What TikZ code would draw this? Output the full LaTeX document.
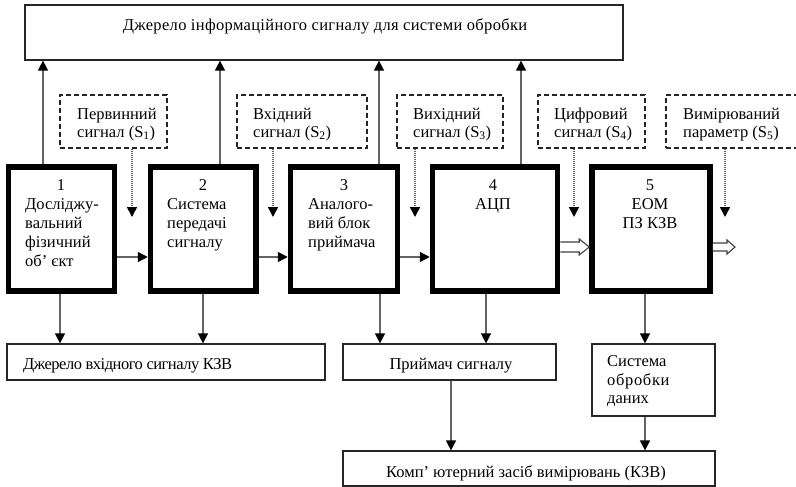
\documentclass[tikz,border=0pt]{standalone}
\usepackage{fontspec}
\setmainfont{Liberation Serif}
\usetikzlibrary{arrows.meta,calc}
\definecolor{conncol}{RGB}{100,100,100}
\tikzset{
  mainbox/.style={draw=black, line width=5.5pt, minimum height=124pt, inner sep=0pt},
  thinbox/.style={draw=black!85, line width=1.2pt, inner sep=0pt},
  dashbox/.style={draw=black!85, line width=1.2pt, dash pattern=on 5pt off 3pt, inner sep=0pt, minimum height=53pt},
  txt/.style={inner sep=0pt, font=\fontsize{16.5}{19}\selectfont},
  conn/.style={draw=conncol, line width=1.4pt, -{Triangle[length=10pt,width=10pt,color=black]}},
  dotconn/.style={draw=conncol, line width=1.6pt, dash pattern=on 1pt off 1pt, -{Triangle[length=10pt,width=10pt,color=black]}},
  hollow/.style={draw=black!75, line width=1.1pt, fill=white},
}
\begin{document}
\begin{tikzpicture}[x=1pt,y=-1pt]
\useasboundingbox (0,0) rectangle (796,487);

% top box
\node[thinbox, minimum width=598pt, minimum height=55pt] (top) at (324,32.5) {};
\node[txt, anchor=base] (toptxt) at (325,31) {\addfontfeature{LetterSpace=2}Джерело інформаційного сигналу для системи обробки};

% dashed boxes
\node[dashbox, minimum width=107pt] (d1) at (113.5,121.5) {};
\node[dashbox, minimum width=130pt] (d2) at (302,121.5) {};
\node[dashbox, minimum width=106pt] (d3) at (450,121.5) {};
\node[dashbox, minimum width=107pt] (d4) at (591.5,121.5) {};
\node[dashbox, minimum width=136pt] (d5) at (734,121.5) {};

\node[txt, anchor=base west] (d1a) at (77,119) {Первинний};
\node[txt, anchor=base west] (d1b) at (77,137) {сигнал (S\textsubscript{1})};
\node[txt, anchor=base west] (d2a) at (253,119) {Вхідний};
\node[txt, anchor=base west] (d2b) at (253,137) {сигнал (S\textsubscript{2})};
\node[txt, anchor=base west] (d3a) at (413,119) {Вихідний};
\node[txt, anchor=base west] (d3b) at (413,137) {сигнал (S\textsubscript{3})};
\node[txt, anchor=base west] (d4a) at (554,119) {Цифровий};
\node[txt, anchor=base west] (d4b) at (554,137) {сигнал (S\textsubscript{4})};
\node[txt, anchor=base west] (d5a) at (683,119) {Вимірюваний};
\node[txt, anchor=base west] (d5b) at (683,137) {параметр (S\textsubscript{5})};

% main boxes
\node[mainbox, minimum width=106pt] (b1) at (61.5,229) {};
\node[mainbox, minimum width=105.5pt] (b2) at (203.25,229) {};
\node[mainbox, minimum width=107pt] (b3) at (344,229) {};
\node[mainbox, minimum width=125pt] (b4) at (495,229) {};
\node[mainbox, minimum width=118pt] (b5) at (651,229) {};

\node[txt, anchor=base] (n1) at (61,190) {1};
\node[txt, anchor=base west] (t1a) at (25,209) {Досліджу-};
\node[txt, anchor=base west] (t1b) at (25,228) {вальний};
\node[txt, anchor=base west] (t1c) at (25,247) {фізичний};
\node[txt, anchor=base west] (t1d) at (25,266) {об’ єкт};

\node[txt, anchor=base] (n2) at (203,190) {2};
\node[txt, anchor=base west] (t2a) at (167,209) {Система};
\node[txt, anchor=base west] (t2b) at (167,228) {передачі};
\node[txt, anchor=base west] (t2c) at (167,247) {сигналу};

\node[txt, anchor=base] (n3) at (344,190) {3};
\node[txt, anchor=base west] (t3a) at (308,209) {Аналого-};
\node[txt, anchor=base west] (t3b) at (308,228) {вий блок};
\node[txt, anchor=base west] (t3c) at (308,247) {приймача};

\node[txt, anchor=base] (n4) at (493,190) {4};
\node[txt, anchor=base] (t4a) at (493,209) {АЦП};

\node[txt, anchor=base] (n5) at (650,190) {5};
\node[txt, anchor=base] (t5a) at (650,209) {ЕОМ};
\node[txt, anchor=base] (t5b) at (650,228) {ПЗ КЗВ};

% bottom boxes
\node[thinbox, minimum width=318pt, minimum height=36pt] (A) at (166,362) {};
\node[txt, anchor=base west] (Atxt) at (23,369) {\addfontfeature{LetterSpace=-3}Джерело вхідного сигналу КЗВ};
\node[thinbox, minimum width=213pt, minimum height=36pt] (B) at (449.5,362) {};
\node[txt, anchor=base] (Btxt) at (451,369) {Приймач сигналу};
\node[thinbox, minimum width=123pt, minimum height=72pt] (C) at (653.5,380) {};
\node[txt, anchor=base west] (Ca) at (607,366) {Система};
\node[txt, anchor=base west] (Cb) at (607,385) {\addfontfeature{LetterSpace=4}обробки};
\node[txt, anchor=base west] (Cc) at (607,403) {даних};
\node[thinbox, minimum width=372pt, minimum height=35pt] (D) at (529,468.5) {};
\node[txt, anchor=base] (Dtxt) at (526,477) {Комп’ ютерний засіб вимірювань (КЗВ)};

% helper coordinates
\coordinate (u1) at (43,0);
\coordinate (u2) at (220,0);
\coordinate (u3) at (379,0);
\coordinate (u4) at (521,0);
\coordinate (h) at (0,257);
\coordinate (hh) at (0,247);
\coordinate (v1) at (60,0);
\coordinate (v2) at (203,0);
\coordinate (v3) at (380,0);
\coordinate (v4) at (486,0);
\coordinate (v5) at (645,0);
\coordinate (v6) at (451,0);
\coordinate (p1) at (132,217);
\coordinate (p2) at (273,217);
\coordinate (p3) at (415,217);
\coordinate (p4) at (574,217);
\coordinate (p5) at (725,217);
\coordinate (out) at (735,247);

% up arrows
\draw[conn] (b1.north -| u1) -- (top.south -| u1);
\draw[conn] (b2.north -| u2) -- (top.south -| u2);
\draw[conn] (b3.north -| u3) -- (top.south -| u3);
\draw[conn] (b4.north -| u4) -- (top.south -| u4);

% dotted arrows
\draw[dotconn] (d1.south -| p1) -- (p1);
\draw[dotconn] (d2.south -| p2) -- (p2);
\draw[dotconn] (d3.south -| p3) -- (p3);
\draw[dotconn] (d4.south -| p4) -- (p4);
\draw[dotconn] (d5.south -| p5) -- (p5);

% horizontal arrows
\draw[conn] (b1.east |- h) -- (b2.west |- h);
\draw[conn] (b2.east |- h) -- (b3.west |- h);
\draw[conn] (b3.east |- h) -- (b4.west |- h);

% hollow arrows
\draw[hollow] ($(b4.east |- hh)+(0,-5)$) -- ($(b5.west |- hh)+(-10,-5)$) -- ($(b5.west |- hh)+(-10,-8)$) -- (b5.west |- hh) -- ($(b5.west |- hh)+(-10,8)$) -- ($(b5.west |- hh)+(-10,5)$) -- ($(b4.east |- hh)+(0,5)$);
\draw[hollow] ($(b5.east |- hh)+(0,-4)$) -- ($(out)+(-8,-4)$) -- ($(out)+(-8,-7)$) -- (out) -- ($(out)+(-8,7)$) -- ($(out)+(-8,4)$) -- ($(b5.east |- hh)+(0,4)$);

% down arrows
\draw[conn] (b1.south -| v1) -- (A.north -| v1);
\draw[conn] (b2.south -| v2) -- (A.north -| v2);
\draw[conn] (b3.south -| v3) -- (B.north -| v3);
\draw[conn] (b4.south -| v4) -- (B.north -| v4);
\draw[conn] (b5.south -| v5) -- (C.north -| v5);
\draw[conn] (B.south -| v6) -- (D.north -| v6);
\draw[conn] (C.south -| v5) -- (D.north -| v5);
\end{tikzpicture}
\end{document}
